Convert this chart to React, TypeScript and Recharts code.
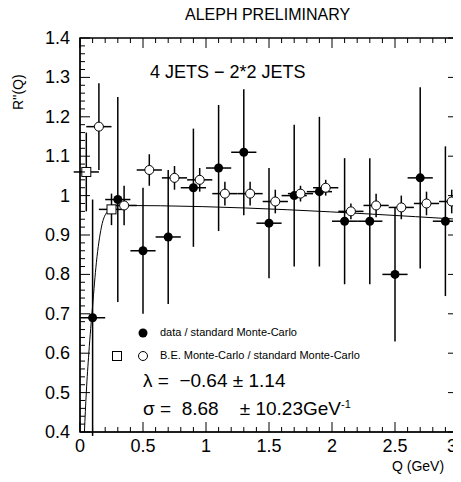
import React from "react";
import { ComposedChart, Scatter, Line, XAxis, YAxis, ErrorBar } from "recharts";

const dataX = [0.1, 0.3, 0.5, 0.7, 0.9, 1.1, 1.3, 1.5, 1.7, 1.9, 2.1, 2.3, 2.5, 2.7, 2.9];
const dataY = [0.69, 0.99, 0.86, 0.895, 1.02, 1.07, 1.11, 0.93, 1.0, 1.01, 0.935, 0.935, 0.8, 1.045, 0.935];
const dataErr = [0.3, 0.26, 0.16, 0.17, 0.15, 0.16, 0.16, 0.14, 0.18, 0.19, 0.16, 0.16, 0.17, 0.23, 0.19];
const beX = [0.15, 0.35, 0.55, 0.75, 0.95, 1.15, 1.35, 1.55, 1.75, 1.95, 2.15, 2.35, 2.55, 2.75, 2.95];
const beY = [1.175, 0.975, 1.065, 1.045, 1.04, 1.005, 1.005, 0.985, 1.005, 1.02, 0.96, 0.975, 0.97, 0.98, 0.985];
const beErr = [0.11, 0.05, 0.04, 0.03, 0.03, 0.03, 0.03, 0.03, 0.02, 0.02, 0.02, 0.03, 0.03, 0.03, 0.03];
const sqX = [0.05, 0.25];
const sqY = [1.06, 0.965];
const sqErr = [0.1, 0.04];
const fitX = [0.035, 0.05, 0.07, 0.1, 0.13, 0.17, 0.22, 0.3, 3.0];
const fitY = [0.4, 0.5, 0.6, 0.72, 0.83, 0.92, 0.96, 0.975, 0.94];
const xTicks = Array.from({ length: 31 }, (_, i) => +(i * 0.1).toFixed(2));
const yTicks = Array.from({ length: 51 }, (_, i) => +(0.4 + i * 0.02).toFixed(2));
const xMajor = [0, 0.5, 1, 1.5, 2, 2.5, 3];
const yMajor = [0.4, 0.5, 0.6, 0.7, 0.8, 0.9, 1, 1.1, 1.2, 1.3, 1.4];

const mk = (xs: number[], ys: number[], es: number[]) =>
  xs.map((x, i) => ({ x, y: ys[i], ey: es[i], ex: 0.1 }));
const data = mk(dataX, dataY, dataErr);
const be = mk(beX, beY, beErr);
const sq = mk(sqX, sqY, sqErr);
const fit = fitX.map((x, i) => ({ x, y: fitY[i] }));

const isMaj = (v: number, arr: number[]) => arr.some((m) => Math.abs(m - v) < 1e-6);
const PLOT_TOP = 38, PLOT_BOTTOM = 432, PLOT_LEFT = 80, PLOT_RIGHT = 458;
const FONT = "Liberation Sans";

const XTick = (p: any) => {
  const v = p.payload.value;
  const maj = isMaj(v, xMajor);
  const len = maj ? 10 : 5;
  return (
    <g>
      <line x1={p.x} x2={p.x} y1={PLOT_BOTTOM} y2={PLOT_BOTTOM - len} stroke="#000" />
      <line x1={p.x} x2={p.x} y1={PLOT_TOP} y2={PLOT_TOP + len} stroke="#000" />
      {maj && (
        <text x={v === 3 ? p.x - 6 : p.x} y={PLOT_BOTTOM + 20} textAnchor="middle" fontSize={18} fontFamily={FONT}>
          {String(v)}
        </text>
      )}
    </g>
  );
};
const YTick = (p: any) => {
  const v = p.payload.value;
  const maj = isMaj(v, yMajor);
  const len = maj ? 10 : 5;
  return (
    <g>
      <line x1={PLOT_LEFT} x2={PLOT_LEFT + len} y1={p.y} y2={p.y} stroke="#000" />
      <line x1={PLOT_RIGHT} x2={PLOT_RIGHT - len} y1={p.y} y2={p.y} stroke="#000" />
      {maj && (
        <text x={PLOT_LEFT - 10} y={p.y + 6} textAnchor="end" fontSize={18} fontFamily={FONT}>
          {v === 1 ? "1" : v.toFixed(1)}
        </text>
      )}
    </g>
  );
};

const Filled = (p: any) => <circle cx={p.cx} cy={p.cy} r={4.5} fill="#000" />;
const Open = (p: any) => <circle cx={p.cx} cy={p.cy} r={4.5} fill="#fff" stroke="#000" />;
const Sq = (p: any) => <rect x={p.cx - 4.5} y={p.cy - 4.5} width={9} height={9} fill="#fff" stroke="#000" />;

const txt: React.CSSProperties = { position: "absolute", fontFamily: FONT, color: "#000", whiteSpace: "pre" };

export default function App() {
  return (
    <div style={{ position: "relative", width: 461, height: 482, margin: -8, background: "#fff", overflow: "hidden" }}>
      <ComposedChart width={461} height={482} margin={{ top: 38, right: 3, bottom: 0, left: 0 }}>
        <XAxis type="number" dataKey="x" domain={[0, 3]} ticks={xTicks} tick={<XTick />} tickSize={0} tickLine={false} allowDataOverflow height={50} stroke="#000" interval={0} />
        <YAxis type="number" dataKey="y" domain={[0.4, 1.4]} ticks={yTicks} tick={<YTick />} tickSize={0} tickLine={false} allowDataOverflow width={80} stroke="#000" interval={0} />
        <Line data={fit} dataKey="y" type="monotone" stroke="#000" strokeWidth={1} dot={false} isAnimationActive={false} />
        <Scatter data={data} dataKey="y" shape={<Filled />} isAnimationActive={false}>
          <ErrorBar dataKey="ey" direction="y" width={0} stroke="#000" />
          <ErrorBar dataKey="ex" direction="x" width={0} stroke="#000" />
        </Scatter>
        <Scatter data={be} dataKey="y" shape={<Open />} isAnimationActive={false}>
          <ErrorBar dataKey="ey" direction="y" width={0} stroke="#000" />
          <ErrorBar dataKey="ex" direction="x" width={0} stroke="#000" />
        </Scatter>
        <Scatter data={sq} dataKey="y" shape={<Sq />} isAnimationActive={false}>
          <ErrorBar dataKey="ey" direction="y" width={0} stroke="#000" />
          <ErrorBar dataKey="ex" direction="x" width={0} stroke="#000" />
        </Scatter>
      </ComposedChart>
      <svg style={{ position: "absolute", left: 0, top: 0, zIndex: 5, pointerEvents: "none" }} width={461} height={482}>
        <rect x={PLOT_LEFT} y={PLOT_TOP} width={PLOT_RIGHT - PLOT_LEFT} height={PLOT_BOTTOM - PLOT_TOP} fill="none" stroke="#000" strokeWidth={1.5} />
        <circle cx={143} cy={333} r={4.5} fill="#000" />
        <rect x={112.5} y={351.5} width={9} height={9} fill="#fff" stroke="#000" />
        <circle cx={143} cy={356} r={4.5} fill="#fff" stroke="#000" />
      </svg>
      <div style={{ ...txt, left: 185, top: 6, fontSize: 16 }}>ALEPH PRELIMINARY</div>
      <div style={{ ...txt, left: 150, top: 62, fontSize: 18 }}>4 JETS − 2*2 JETS</div>
      <div style={{ ...txt, left: 10, top: 110, fontSize: 14, transform: "rotate(-90deg)", transformOrigin: "left top" }}>R''(Q)</div>
      <div style={{ ...txt, left: 392, top: 458, fontSize: 14 }}>Q (GeV)</div>
      <div style={{ ...txt, left: 160, top: 326, fontSize: 11 }}>data / standard Monte-Carlo</div>
      <div style={{ ...txt, left: 160, top: 349, fontSize: 11 }}>B.E. Monte-Carlo / standard Monte-Carlo</div>
      <div style={{ ...txt, left: 143, top: 370, fontSize: 19 }}>{"λ =  −0.64 ± 1.14"}</div>
      <div style={{ ...txt, left: 143, top: 398, fontSize: 19 }}>
        {"σ =  8.68    ± 10.23GeV"}<sup style={{ fontSize: 11 }}>-1</sup>
      </div>
    </div>
  );
}
